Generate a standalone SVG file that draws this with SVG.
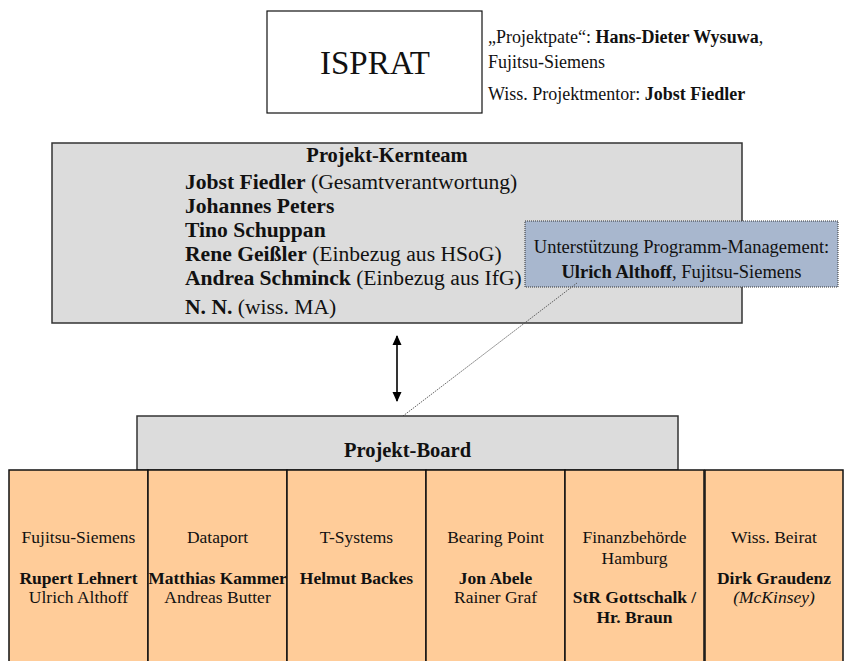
<svg xmlns="http://www.w3.org/2000/svg" width="857" height="661" viewBox="0 0 857 661">
<defs>
<style>
text{font-family:"Liberation Serif","Times New Roman",serif;fill:#111}
.b{font-weight:bold}
.i{font-style:italic}
.gray{fill:#dcdcdc;stroke:#333;stroke-width:1.5}
.cell{fill:#ffcc99;stroke:#111;stroke-width:1.5}
.kt{font-size:21.6px}
.cx{font-size:17.5px;text-anchor:middle}
</style>
<marker id="ah" viewBox="0 0 10 10" refX="9" refY="5" markerWidth="10" markerHeight="10" markerUnits="userSpaceOnUse" orient="auto-start-reverse">
<path d="M0,0.5 L10,5 L0,9.5 Z" fill="#000"/>
</marker>
</defs>
<rect width="857" height="661" fill="#fff"/>

<g id="isprat">
<rect x="267" y="11" width="215" height="102" fill="#fff" stroke="#111" stroke-width="1.2"/>
<text x="375" y="74" font-size="33" text-anchor="middle">ISPRAT</text>
</g>

<g id="isprat-info">
<text x="488" y="43" font-size="18">„Projektpate“: <tspan class="b">Hans-Dieter Wysuwa</tspan>,</text>
<text x="488" y="68" font-size="18">Fujitsu-Siemens</text>
<text x="488" y="100" font-size="18">Wiss. Projektmentor: <tspan class="b">Jobst Fiedler</tspan></text>
</g>

<g id="kernteam">
<rect class="gray" x="52" y="143" width="690" height="180"/>
<text class="b" x="387" y="162" font-size="20.5" text-anchor="middle">Projekt-Kernteam</text>
<text class="kt" x="185" y="189"><tspan class="b">Jobst Fiedler</tspan> (Gesamtverantwortung)</text>
<text class="kt b" x="185" y="213">Johannes Peters</text>
<text class="kt b" x="185" y="237">Tino Schuppan</text>
<text class="kt" x="185" y="261"><tspan class="b">Rene Geißler</tspan> (Einbezug aus HSoG)</text>
<text class="kt" x="185" y="285"><tspan class="b">Andrea Schminck</tspan> (Einbezug aus IfG)</text>
<text class="kt" x="185" y="314"><tspan class="b">N. N.</tspan> (wiss. MA)</text>
</g>

<g id="programm-management">
<rect x="525" y="221" width="313" height="66" fill="#a8b7ce" stroke="#333" stroke-width="1" stroke-dasharray="1 1"/>
<text x="681.5" y="253" font-size="18.5" text-anchor="middle">Unterstützung Programm-Management:</text>
<text x="681.5" y="278" font-size="18.5" text-anchor="middle"><tspan class="b">Ulrich Althoff</tspan>, Fujitsu-Siemens</text>
</g>

<g id="connectors">
<line x1="397" y1="336" x2="397" y2="401" stroke="#000" stroke-width="1.6" marker-start="url(#ah)" marker-end="url(#ah)"/>
<line x1="577" y1="283" x2="403" y2="416" stroke="#555" stroke-width="0.9" stroke-dasharray="1.5 1"/>
</g>

<g id="board">
<rect class="gray" x="137" y="416" width="541" height="54"/>
<text class="b" x="407.5" y="457" font-size="20.5" text-anchor="middle">Projekt-Board</text>
</g>

<g id="fujitsu-siemens">
<rect class="cell" x="9" y="470" width="139" height="200"/>
<text class="cx" x="78.5" y="543">Fujitsu-Siemens</text>
<text class="cx b" x="78.5" y="584">Rupert Lehnert</text>
<text class="cx" x="78.5" y="603">Ulrich Althoff</text>
</g>
<g id="dataport">
<rect class="cell" x="148" y="470" width="139" height="200"/>
<text class="cx" x="217.5" y="543">Dataport</text>
<text class="cx b" x="217.5" y="584">Matthias Kammer</text>
<text class="cx" x="217.5" y="603">Andreas Butter</text>
</g>
<g id="t-systems">
<rect class="cell" x="287" y="470" width="139" height="200"/>
<text class="cx" x="356.5" y="543">T-Systems</text>
<text class="cx b" x="356.5" y="584">Helmut Backes</text>
</g>
<g id="bearing-point">
<rect class="cell" x="426" y="470" width="139" height="200"/>
<text class="cx" x="495.5" y="543">Bearing Point</text>
<text class="cx b" x="495.5" y="584">Jon Abele</text>
<text class="cx" x="495.5" y="603">Rainer Graf</text>
</g>
<g id="finanzbehoerde">
<rect class="cell" x="565" y="470" width="139" height="200"/>
<text class="cx" x="634.5" y="543">Finanzbehörde</text>
<text class="cx" x="634.5" y="564">Hamburg</text>
<text class="cx b" x="634.5" y="603">StR Gottschalk /</text>
<text class="cx b" x="634.5" y="623">Hr. Braun</text>
</g>
<g id="wiss-beirat">
<rect class="cell" x="705" y="470" width="138" height="200"/>
<text class="cx" x="774" y="543">Wiss. Beirat</text>
<text class="cx b" x="774" y="584">Dirk Graudenz</text>
<text class="cx i" x="774" y="603">(McKinsey)</text>
</g>
</svg>
